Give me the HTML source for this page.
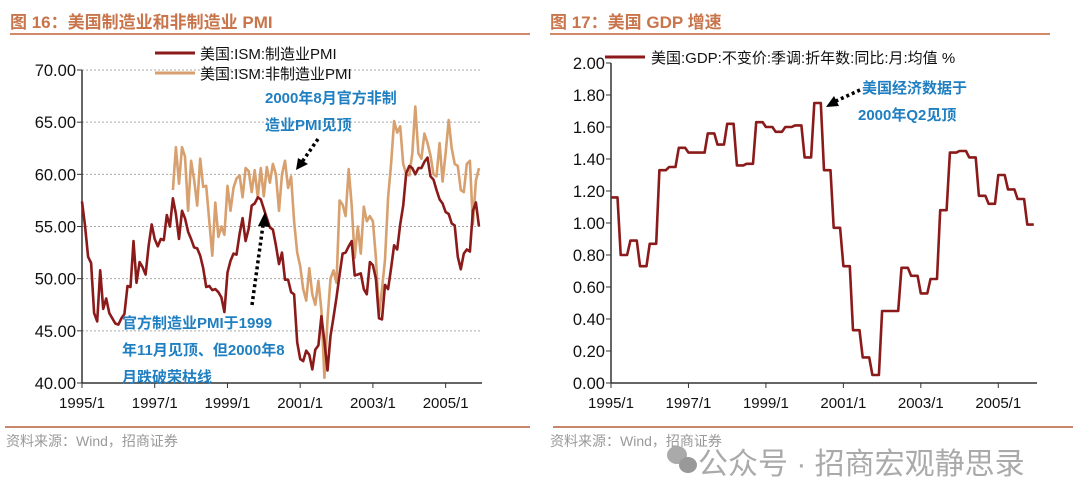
<!DOCTYPE html>
<html><head><meta charset="utf-8">
<style>
html,body{margin:0;padding:0;background:#fff;width:1080px;height:504px;overflow:hidden}
svg{display:block}
text{font-family:"Liberation Sans","Noto Sans CJK SC",sans-serif}
</style></head>
<body>
<svg id="s" width="1080" height="504" viewBox="0 0 1080 504" xmlns="http://www.w3.org/2000/svg">
<text x="10" y="28" font-size="17" font-weight="bold" fill="#c8754c">图 16：美国制造业和非制造业 PMI</text>
<line x1="10" y1="34" x2="530" y2="34" stroke="#d08a6a" stroke-width="2"/>
<text x="550" y="28" font-size="17" font-weight="bold" fill="#c8754c">图 17：美国 GDP 增速</text>
<line x1="550" y1="34" x2="1050" y2="34" stroke="#d08a6a" stroke-width="2"/>
<g id="L"></g><g id="R"></g>
<line x1="5" y1="427" x2="530" y2="427" stroke="#c8876a" stroke-width="2"/>
<line x1="553" y1="427" x2="1073" y2="427" stroke="#c8876a" stroke-width="2"/>
<text x="6" y="446" font-size="14" fill="#999">资料来源：Wind，招商证券</text>
<text x="550" y="446" font-size="14" fill="#999">资料来源：Wind，招商证券</text>
<g fill="#aaa">
<ellipse cx="677" cy="455" rx="10" ry="9"/><ellipse cx="688" cy="465" rx="9" ry="8" fill="#999"/>
<text x="698" y="474" font-size="30" fill="#aaa">公众号 · 招商宏观静思录</text>
</g>
</svg>
<script>
var ns="http://www.w3.org/2000/svg";
var xLabels=["1995/1","1997/1","1999/1","2001/1","2003/1","2005/1"];
var pmiTicks=[40,45,50,55,60,65,70];
var gdpTicks=[0,0.2,0.4,0.6,0.8,1.0,1.2,1.4,1.6,1.8,2.0];
var mfgPMI=[57.4,55.1,52.1,51.5,46.7,45.9,50.8,47.1,48.1,46.7,46.2,45.7,
45.6,46.2,46.6,49.3,49.2,53.6,49.6,51.6,51.1,50.4,53.2,55.2,
53.8,53.1,53.8,53.7,56.1,55.0,57.7,56.2,53.8,56.5,55.8,54.5,
53.8,53.0,52.9,52.2,51.0,49.2,49.3,48.9,49.0,48.7,48.2,46.8,
50.6,51.7,52.4,52.3,54.3,55.8,53.6,54.8,57.0,57.2,57.8,57.6,
56.7,55.8,54.9,54.7,53.2,51.4,52.5,49.9,49.9,48.7,48.5,43.9,
42.3,42.1,43.1,42.7,41.3,43.2,43.6,46.4,44.0,41.2,44.5,46.3,
48.2,50.4,52.4,52.5,53.1,53.6,50.3,50.4,50.5,49.0,48.5,51.6,
51.3,50.0,46.2,46.1,49.4,49.0,51.0,53.2,52.8,55.2,57.0,60.1,
60.8,60.6,60.0,60.6,60.6,61.2,61.6,59.8,59.5,58.5,57.6,57.2,
56.4,56.2,55.3,55.1,52.1,50.9,52.4,52.8,52.6,56.5,57.3,55.0];
var nonMfgStart=30;
var nonMfgPMI=[58.5,62.6,59.1,62.6,61.7,56.5,
61.3,59.5,57.0,61.5,58.8,58.9,55.5,52.2,57.3,54.0,55.0,54.2,
58.9,56.5,58.7,59.6,59.9,57.8,60.6,60.3,58.3,60.4,57.8,60.6,
57.9,60.7,59.2,61.0,60.0,56.5,60.0,61.3,58.7,59.8,55.5,52.5,
51.2,49.0,47.9,51.0,48.5,47.5,49.8,47.0,40.5,46.1,50.0,50.8,
49.6,57.5,57.1,56.0,60.5,57.0,52.0,55.0,52.4,56.9,55.5,56.0,
55.5,52.0,46.5,49.0,51.8,57.8,61.0,65.1,64.0,64.6,61.0,60.0,
59.9,62.0,66.5,62.0,61.5,63.9,63.0,61.8,60.0,59.8,63.0,59.3,
62.0,65.2,62.5,61.0,60.8,58.5,58.3,61.0,61.3,55.2,59.4,60.6];
var gdpQ=[1.16,0.80,0.89,0.73,0.87,1.33,1.35,1.47,1.44,1.44,1.56,1.49,1.62,1.36,1.37,1.63,1.60,1.57,1.60,1.61,
1.41,1.75,1.33,0.97,0.73,0.33,0.16,0.05,0.45,0.45,0.72,0.67,0.56,0.65,1.08,1.44,1.45,1.41,1.17,1.12,1.30,1.21,1.15,0.99];

function el(p,t,a){var e=document.createElementNS(ns,t);for(var k in a)e.setAttribute(k,a[k]);p.appendChild(e);return e;}

function chart(g,o){
  var x=function(m){return o.x0+(o.x1-o.x0)*m/132;};
  var y=function(v){return o.yb+(o.yt-o.yb)*(v-o.min)/(o.max-o.min);};
  o.ticks.forEach(function(t){
    var yy=y(t);
    if(o.grid&&t>o.min){var gl=el(g,"line",{x1:o.x0,x2:o.x1,y1:yy,y2:yy,stroke:"#aaa","stroke-dasharray":"2,2","stroke-width":1});
    
    }
    el(g,"line",{x1:o.x0-5,x2:o.x0,y1:yy,y2:yy,stroke:"#333"});
    var tx=el(g,"text",{x:o.x0-6,y:yy+6,"font-size":16.5,"text-anchor":"end",fill:"#111"});
    
    
    tx.textContent=t.toFixed(2);
  });
  el(g,"line",{x1:o.x0,x2:o.x0,y1:o.yt,y2:o.yb,stroke:"#333","stroke-width":1.5});
  el(g,"line",{x1:o.x0,x2:o.x1,y1:o.yb,y2:o.yb,stroke:"#333","stroke-width":1.5});
  xLabels.forEach(function(l,i){
    var xx=x(i*24);
    el(g,"line",{x1:xx,x2:xx,y1:o.yb,y2:o.yb+5,stroke:"#333"});
    var tx=el(g,"text",{x:xx,y:o.yb+25,"font-size":15,"text-anchor":"middle",fill:"#111"});
    
    
    tx.textContent=l;
  });
  return {x:x,y:y};
}
function path(g,pts,col,name){
  var p=el(g,"polyline",{points:pts.map(function(q){return q[0].toFixed(1)+","+q[1].toFixed(1);}).join(" "),fill:"none",stroke:col,"stroke-width":2.6,"stroke-linejoin":"round"});
  
  
}
var L=document.getElementById("L"),R=document.getElementById("R");
var a=chart(L,{x0:82,x1:482,yt:70,yb:383,min:40,max:70,ticks:pmiTicks,grid:true});
path(L,nonMfgPMI.map(function(v,i){return [a.x(nonMfgStart+i),a.y(v)];}),"#d7a06e","non-manufacturing-pmi-line");
path(L,mfgPMI.map(function(v,i){return [a.x(i),a.y(v)];}),"#8b1a1a","manufacturing-pmi-line");
var b=chart(R,{x0:611,x1:1037,yt:63,yb:383,min:0,max:2,ticks:gdpTicks,grid:false});
var gp=[];gdpQ.forEach(function(v,i){gp.push([b.x(3*i),b.y(v)]);gp.push([b.x(3*i+2),b.y(v)]);});
path(R,gp,"#8b1a1a","gdp-growth-line");
</script>
<svg style="position:absolute;left:0;top:0" width="1080" height="504" xmlns="http://www.w3.org/2000/svg">
<g>
<line x1="155" y1="53" x2="195" y2="53" stroke="#8b1a1a" stroke-width="3"/>
<text x="200" y="59" font-size="15" fill="#111">美国:ISM:制造业PMI</text>
<line x1="155" y1="73" x2="195" y2="73" stroke="#d7a06e" stroke-width="3"/>
<text x="200" y="79" font-size="15" fill="#111">美国:ISM:非制造业PMI</text>
</g>
<g fill="#1f7fc0" font-weight="bold" font-size="15">
<text x="265" y="103">2000年8月官方非制</text>
<text x="265" y="130">造业PMI见顶</text>
<line x1="318" y1="139" x2="302" y2="162" stroke="#000" stroke-width="3.5" stroke-dasharray="3,3"/>
<polygon points="296,170 298,158 308,164" fill="#000"/>
</g>
<g fill="#1f7fc0" font-weight="bold" font-size="15">
<text x="122" y="328">官方制造业PMI于1999</text>
<text x="122" y="355">年11月见顶、但2000年8</text>
<text x="122" y="382">月跌破荣枯线</text>
<line x1="252" y1="305" x2="263" y2="225" stroke="#000" stroke-width="3.5" stroke-dasharray="3,3"/>
<polygon points="265,212 258,226 270,227" fill="#000"/>
</g>
<g>
<line x1="605" y1="57" x2="645" y2="57" stroke="#8b1a1a" stroke-width="3"/>
<text x="651" y="63" font-size="15" fill="#111">美国:GDP:不变价:季调:折年数:同比:月:均值 %</text>
</g>
<g fill="#1f7fc0" font-weight="bold" font-size="15">
<text x="862" y="93">美国经济数据于</text>
<text x="858" y="120">2000年Q2见顶</text>
<line x1="860" y1="90" x2="836" y2="101" stroke="#000" stroke-width="3.5" stroke-dasharray="3,3"/>
<polygon points="826,107 834,96 839,106" fill="#000"/>
</g>
</svg>
</body></html>
